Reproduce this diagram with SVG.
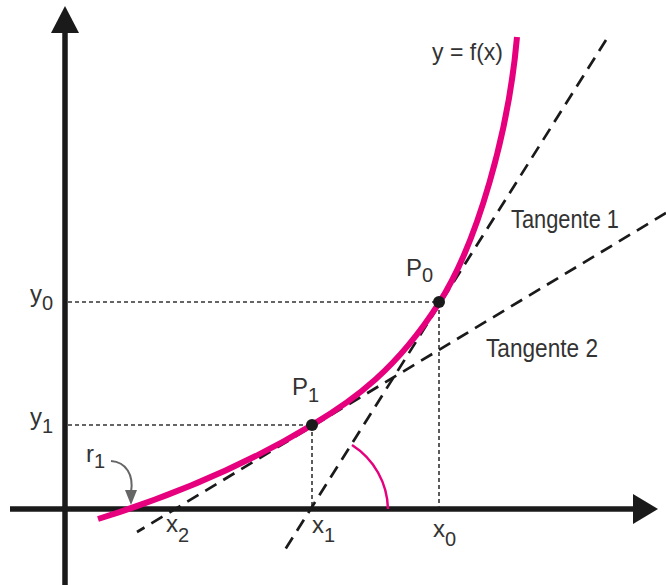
<svg xmlns="http://www.w3.org/2000/svg" width="666" height="585" viewBox="0 0 666 585">
<style>
.lbl{font-family:"Liberation Sans",Arial,sans-serif;fill:#333;font-size:24px}
.sub{font-size:20px}
.axis{stroke:#1a1a1a;stroke-width:5.5;fill:none}
.tan{stroke:#1a1a1a;stroke-width:2.7;fill:none;stroke-dasharray:13 8}
.guide{stroke:#333;stroke-width:1.6;fill:none;stroke-dasharray:4 3}
.curve{stroke:#E6007E;stroke-width:6;fill:none;stroke-linecap:butt}
</style>
<rect width="666" height="585" fill="#fff"/>
<g id="axes">
<line class="axis" x1="65" y1="585" x2="65" y2="30"/>
<polygon points="51,33 65,6 79,33" fill="#1a1a1a"/>
<line class="axis" x1="10" y1="509" x2="636" y2="509"/>
<polygon points="633,494 658,509 633,524" fill="#1a1a1a"/>
</g>
<g id="connectors">
<line class="guide" x1="68" y1="302" x2="438" y2="302"/>
<line class="guide" x1="68" y1="425" x2="312" y2="425"/>
<line class="guide" x1="312" y1="425" x2="312" y2="507"/>
<line class="guide" x1="439" y1="303" x2="439" y2="507"/>
<line class="tan" x1="606" y1="40" x2="283" y2="553"/>
<line class="tan" x1="666" y1="213" x2="137" y2="532"/>
<path d="M352,445 A78,78 0 0 1 388,509" stroke="#E6007E" stroke-width="2.5" fill="none"/>
</g>
<g id="curve">
<path class="curve" d="M98,519 C169,497 241,468 312,425 C354,400 397,369 439,303 C478,242 509,130 517,37"/>
</g>
<g id="P0">
<circle cx="439" cy="302" r="6" fill="#1a1a1a"/>
<text class="lbl" x="406" y="276">P<tspan class="sub" dy="6">0</tspan></text>
</g>
<g id="P1">
<circle cx="312" cy="425" r="6" fill="#1a1a1a"/>
<text class="lbl" x="292" y="395">P<tspan class="sub" dy="7">1</tspan></text>
</g>
<g id="r1">
<text class="lbl" x="86" y="462">r<tspan class="sub" dy="6">1</tspan></text>
<path d="M111,461 C126,462 134,475 131,492" stroke="#666" stroke-width="2" fill="none"/>
<polygon points="125,490 137,490 131,505" fill="#666"/>
</g>
<g id="labels">
<text class="lbl" x="432" y="60" textLength="71" lengthAdjust="spacingAndGlyphs">y = f(x)</text>
<text class="lbl" x="511" y="228" textLength="108" lengthAdjust="spacingAndGlyphs" style="font-size:26px">Tangente 1</text>
<text class="lbl" x="486" y="357" textLength="112" lengthAdjust="spacingAndGlyphs" style="font-size:26px">Tangente 2</text>
<text class="lbl" x="30" y="302">y<tspan class="sub" dy="8">0</tspan></text>
<text class="lbl" x="30" y="425">y<tspan class="sub" dy="8">1</tspan></text>
<text class="lbl" x="166" y="532">x<tspan class="sub" dy="10">2</tspan></text>
<text class="lbl" x="312" y="533">x<tspan class="sub" dy="9">1</tspan></text>
<text class="lbl" x="433" y="537">x<tspan class="sub" dy="9">0</tspan></text>
</g>
</svg>
